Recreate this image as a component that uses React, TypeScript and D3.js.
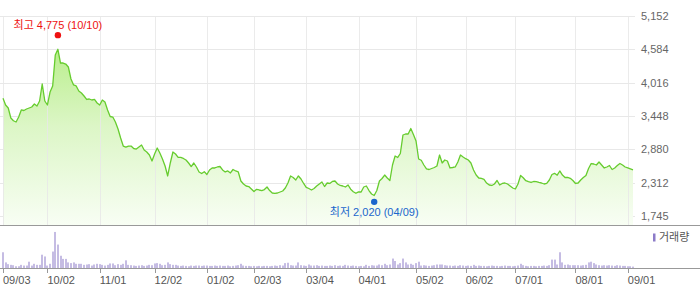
import React from "react";
import * as d3 from "d3";

// Daily closing prices (09/03 .. 09/03 next year)
const closes: number[] = [
  3750, 3636, 3585, 3414, 3368, 3346, 3431, 3551, 3542, 3568,
  3585, 3602, 3653, 3619, 3704, 3994, 3704, 3636, 3857, 3960,
  4488, 4585, 4351, 4351, 4334, 4283, 4079, 3977, 3960, 3874,
  3840, 3789, 3730, 3738, 3721, 3730, 3670, 3636, 3721, 3687,
  3551, 3440, 3431, 3346, 3227, 3074, 2937, 2920, 2937, 2937,
  2895, 2886, 2920, 2954, 2869, 2835, 2784, 2682, 2801, 2903,
  2818, 2716, 2597, 2427, 2648, 2835, 2801, 2742, 2742, 2725,
  2699, 2648, 2588, 2648, 2580, 2495, 2469, 2500, 2452, 2529,
  2563, 2563, 2580, 2588, 2529, 2495, 2512, 2478, 2537, 2512,
  2495, 2341, 2290, 2256, 2247, 2205, 2162, 2200, 2188, 2179,
  2196, 2239, 2179, 2137, 2132, 2137, 2154, 2171, 2222, 2307,
  2427, 2401, 2358, 2427, 2375, 2299, 2234, 2213, 2188, 2213,
  2256, 2290, 2324, 2247, 2307, 2299, 2333, 2341, 2290, 2265,
  2256, 2239, 2273, 2202, 2159, 2132, 2157, 2154, 2239, 2256,
  2179, 2120, 2094, 2179, 2341, 2384, 2443, 2392, 2350, 2614,
  2767, 2742, 2810, 3125, 3142, 3142, 3236, 3133, 3023, 2716,
  2694, 2614, 2546, 2537, 2554, 2571, 2597, 2784, 2648, 2699,
  2682, 2563, 2571, 2580, 2665, 2784, 2750, 2721, 2699, 2648,
  2529, 2443, 2392, 2387, 2370, 2307, 2273, 2265, 2290, 2350,
  2273, 2299, 2307, 2290, 2256, 2222, 2205, 2290, 2435, 2397,
  2346, 2329, 2316, 2333, 2329, 2316, 2307, 2290, 2299, 2358,
  2452, 2472, 2440, 2512, 2443, 2401, 2401, 2387, 2350, 2299,
  2307, 2358, 2401, 2435, 2554, 2639, 2631, 2614, 2665, 2614,
  2563, 2580, 2605, 2537, 2563, 2605, 2639, 2614, 2580, 2563,
  2546, 2529,
];

// Daily volume (relative units)
const volumes: number[] = [
  45, 16, 11, 9, 8, 5, 5, 9, 7, 7,
  18, 7, 12, 9, 9, 38, 33, 7, 12, 47,
  103, 67, 35, 26, 26, 16, 14, 16, 12, 12,
  12, 9, 10, 11, 7, 10, 12, 11, 9, 7,
  9, 13, 13, 8, 11, 9, 12, 22, 9, 8,
  7, 6, 7, 8, 6, 7, 9, 8, 13, 14,
  12, 8, 9, 16, 11, 9, 9, 7, 6, 7,
  6, 5, 7, 6, 7, 7, 6, 7, 7, 6,
  6, 7, 6, 7, 6, 6, 7, 5, 6, 7,
  8, 12, 7, 6, 6, 5, 6, 5, 6, 5,
  6, 6, 5, 6, 7, 6, 8, 7, 14, 15,
  8, 7, 7, 16, 8, 7, 6, 10, 7, 7,
  8, 6, 7, 6, 6, 7, 6, 8, 6, 7,
  6, 9, 7, 6, 7, 6, 5, 6, 5, 9,
  6, 8, 7, 7, 10, 8, 12, 8, 10, 27,
  20, 10, 14, 27, 16, 10, 12, 9, 14, 18,
  7, 8, 7, 6, 7, 8, 10, 10, 10, 8,
  7, 7, 6, 7, 6, 8, 7, 6, 7, 6,
  9, 6, 7, 6, 6, 5, 6, 7, 6, 6,
  5, 6, 7, 6, 6, 5, 6, 7, 12, 8,
  6, 5, 6, 6, 5, 6, 6, 7, 6, 8,
  24, 24, 10, 45, 16, 9, 10, 8, 8, 8,
  8, 7, 8, 9, 16, 18, 14, 10, 8, 7,
  8, 7, 8, 7, 6, 8, 7, 6, 6, 5,
  5, 4,
];

const xTickIndex: number[] = [0, 17, 37, 58, 78, 96, 116, 136, 158, 177, 196, 219, 239];
const xTickLabels: string[] = ["09/03", "10/02", "11/01", "12/02", "01/02", "02/03", "03/04", "04/01", "05/02", "06/02", "07/01", "08/01", "09/01"];
const yTicks: number[] = [5152, 4584, 4016, 3448, 2880, 2312, 1745];

const highValue = 4775;
const highIndex = 21;
const highLabel = "최고 4,775 (10/10)";
const lowValue = 2020;
const lowIndex = 142;
const lowLabel = "최저 2,020 (04/09)";
const legendLabel = "거래량";

const FONT = "'Liberation Sans', 'Noto Sans CJK KR', sans-serif";

export default function App() {
  const W = 700;
  const H = 289;
  const priceBottom = 225;
  const volBottom = 268;

  const x = d3.scaleLinear().domain([0, closes.length - 1]).range([3, 633]);
  const y = d3.scaleLinear().domain([1745, 5152]).range([216, 16]);
  const yv = d3.scaleLinear().domain([0, 120]).range([volBottom, 226]);

  const line = d3
    .line<number>()
    .x((_, i) => x(i))
    .y((d) => y(d));
  const area = d3
    .area<number>()
    .x((_, i) => x(i))
    .y0(priceBottom)
    .y1((d) => y(d));

  const fmt = d3.format(",");
  const crisp = (v: number) => Math.round(v) + 0.5;

  return (
    <div style={{ position: "absolute", left: 0, top: 0, width: W, height: H, background: "#fff" }}>
      <svg width={W} height={H} style={{ display: "block" }} fontFamily={FONT}>
        <defs>
          <linearGradient id="priceFill" gradientUnits="userSpaceOnUse" x1="0" y1="45" x2="0" y2={priceBottom}>
            <stop offset="0" stopColor="#b8ee8a" />
            <stop offset="0.45" stopColor="#dcf6c6" />
            <stop offset="1" stopColor="#f8fef4" />
          </linearGradient>
        </defs>

        {/* horizontal grid */}
        {yTicks.map((t) => (
          <line key={"h" + t} x1={0} x2={635} y1={crisp(y(t))} y2={crisp(y(t))} stroke="#e8e8e8" strokeWidth={1} />
        ))}

        {/* price area & line */}
        <path d={area(closes) || ""} fill="url(#priceFill)" />

        {/* vertical grid */}
        {xTickIndex.map((t) => (
          <line key={"v" + t} x1={crisp(x(t))} x2={crisp(x(t))} y1={16} y2={priceBottom} stroke="#e8e8e8" strokeOpacity={0.85} strokeWidth={1} />
        ))}

        <path d={line(closes) || ""} fill="none" stroke="#66cc2e" strokeWidth={1.3} strokeLinejoin="round" />

        {/* y labels */}
        {yTicks.map((t) => (
          <text key={"yl" + t} x={641} y={y(t)} dy="0.35em" fontSize={11} fill="#666">
            {fmt(t)}
          </text>
        ))}

        {/* panel separators */}
        <line x1={0} x2={W} y1={priceBottom + 0.5} y2={priceBottom + 0.5} stroke="#999" strokeWidth={1} />

        {/* volume bars */}
        {volumes.map((v, i) => (
          <rect key={"b" + i} x={Math.round(x(i)) - 0.5} y={yv(v)} width={1} height={volBottom - yv(v)} fill="#8c7bc8" />
        ))}

        <line x1={0} x2={W} y1={volBottom + 0.5} y2={volBottom + 0.5} stroke="#999" strokeWidth={1} />

        {/* x ticks & labels */}
        {xTickIndex.map((t, k) => (
          <g key={"xt" + t}>
            <line x1={crisp(x(t))} x2={crisp(x(t))} y1={volBottom} y2={volBottom + 5} stroke="#999" strokeWidth={1} />
            <text x={x(t)} y={284} fontSize={11} fill="#555">
              {xTickLabels[k]}
            </text>
          </g>
        ))}

        {/* legend */}
        <rect x={653} y={233.5} width={2.5} height={8} fill="#8c7bc8" />
        <text x={659} y={241} fontSize={11} fill="#555">
          {legendLabel}
        </text>

        {/* high / low annotations */}
        <circle cx={x(highIndex)} cy={y(highValue) - 3} r={3.2} fill="#ee1111" />
        <text x={x(highIndex)} y={y(highValue) - 9} textAnchor="middle" fontSize={11} fill="#ee1111">
          {highLabel}
        </text>
        <circle cx={x(lowIndex)} cy={y(lowValue) + 2} r={3.2} fill="#1a66cc" />
        <text x={x(lowIndex)} y={y(lowValue) + 16} textAnchor="middle" fontSize={11} fill="#1a66cc">
          {lowLabel}
        </text>
      </svg>
    </div>
  );
}
